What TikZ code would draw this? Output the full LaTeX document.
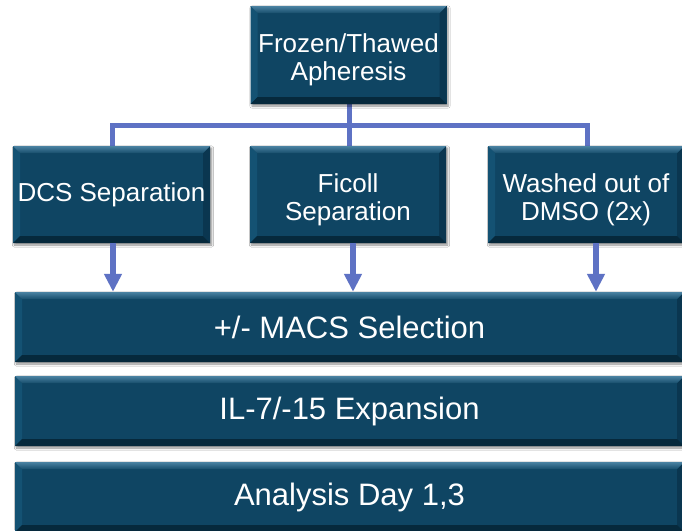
\documentclass[tikz,border=0pt]{standalone}
\usepackage{fontspec}
\setmainfont{Liberation Sans}
\usetikzlibrary{calc,arrows.meta,shadows.blur}
\definecolor{boxfill}{HTML}{0F4563}
\definecolor{bevlight}{HTML}{4A82A2}
\definecolor{bevdark}{HTML}{06293C}
\definecolor{bevright}{HTML}{0A3650}
\definecolor{bevleft}{HTML}{145273}
\definecolor{conncol}{HTML}{5E72C4}
\newcommand{\myupstrut}{\rule{0pt}{29pt}}
\tikzset{
  bevelbox/.style={rectangle, fill=boxfill, text=white, inner sep=0pt, align=center,
    blur shadow={shadow xshift=1.5pt, shadow yshift=-2pt, shadow blur steps=6, shadow opacity=45},
    path picture={
      \fill[bevleft] let \p1=(path picture bounding box.north west), \p2=(path picture bounding box.south east) in
        (\x1,\y1) -- (\x1+7pt,\y1-7pt) -- (\x1+7pt,\y2+7pt) -- (\x1,\y2) -- cycle;
      \fill[bevright] let \p1=(path picture bounding box.north west), \p2=(path picture bounding box.south east) in
        (\x2,\y1) -- (\x2-7pt,\y1-7pt) -- (\x2-7pt,\y2+7pt) -- (\x2,\y2) -- cycle;
      \fill[bevdark] let \p1=(path picture bounding box.north west), \p2=(path picture bounding box.south east) in
        (\x1,\y2) -- (\x2,\y2) -- (\x2-7pt,\y2+7pt) -- (\x1+7pt,\y2+7pt) -- cycle;
      \shade[top color=bevlight, bottom color=boxfill!85!bevlight] let \p1=(path picture bounding box.north west), \p2=(path picture bounding box.south east) in
        (\x1,\y1) -- (\x2,\y1) -- (\x2-7pt,\y1-7pt) -- (\x1+7pt,\y1-7pt) -- cycle;
    }},
  smallbox/.style={bevelbox, minimum width=196pt, minimum height=97pt, font=\fontsize{26}{28}\selectfont},
  widebox/.style={bevelbox, minimum width=669pt, minimum height=70pt, font=\fontsize{31}{35}\selectfont},
  conn/.style={draw=conncol, line width=5pt},
  arr/.style={draw=conncol, line width=6.5pt, -{Triangle[width=17pt,length=18pt]}}
}
\begin{document}
\begin{tikzpicture}[x=1pt,y=-1pt]
\useasboundingbox[fill=white] (0,0) rectangle (682,530);
\clip (0,0) rectangle (682,530);
% connectors (behind boxes)
\draw[conn] (112,146) -- (112,125) -- (587,125) -- (587,146);
\draw[conn] (349,104) -- (349,146);
% boxes
\node[smallbox, minimum height=98pt] (top) at (348.5,55) {\myupstrut Frozen/Thawed\\Apheresis};
\node[smallbox, minimum width=197pt] (dcs) at (111.5,194.5) {DCS Separation};
\node[smallbox] (ficoll) at (348,194.5) {\myupstrut Ficoll\\Separation};
\node[smallbox] (washed) at (586,194.5) {\myupstrut Washed out of\\DMSO (2x)};
\node[widebox] (macs) at (349.5,327) {+/- MACS Selection};
\node[widebox] (il) at (349.5,411) {IL-7/-15 Expansion};
\node[widebox] (ana) at (349.5,497) {Analysis Day 1,3};
% arrows
\draw[arr] ([xshift=1.5pt]dcs.south) -- ([xshift=1.5pt]dcs.south |- macs.north);
\draw[arr] ([xshift=5pt]ficoll.south) -- ([xshift=5pt]ficoll.south |- macs.north);
\draw[arr] ([xshift=10pt]washed.south) -- ([xshift=10pt]washed.south |- macs.north);
\end{tikzpicture}
\end{document}
